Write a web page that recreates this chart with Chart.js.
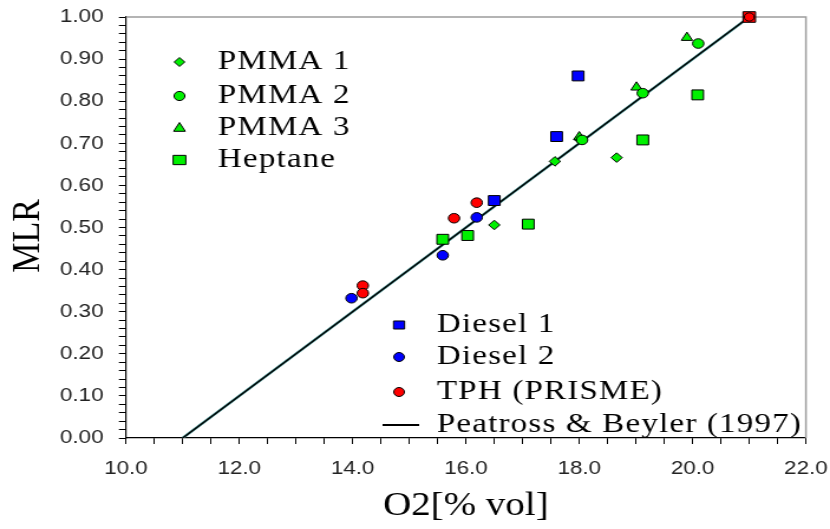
<!DOCTYPE html>
<html>
<head>
<meta charset="utf-8">
<script src="https://cdn.jsdelivr.net/npm/chart.js@4.4.1/dist/chart.umd.min.js"></script>
<style>
  html, body { margin: 0; padding: 0; background: #fff; }
</style>
</head>
<body>
<!-- the original picture is stretched sideways, so the canvas is drawn narrower and widened by css -->
<canvas id="chart" width="703" height="529" style="display:block;width:830px;height:529px"></canvas>
<script>
/* === DATA === */
const pmma1X = [16.5, 17.57, 18.0, 18.66];
const pmma1Y = [0.506, 0.657, 0.71, 0.666];

const pmma2X = [18.05, 19.12, 20.1];
const pmma2Y = [0.708, 0.819, 0.937];

const pmma3X = [18.0, 19.01, 19.9];
const pmma3Y = [0.715, 0.833, 0.951];

const heptaneX = [15.59, 16.03, 17.1, 19.12, 20.09];
const heptaneY = [0.472, 0.481, 0.508, 0.708, 0.815];

const diesel1X = [16.5, 17.6, 17.98];
const diesel1Y = [0.564, 0.716, 0.86];

const diesel2X = [13.98, 15.59, 16.19];
const diesel2Y = [0.332, 0.434, 0.524];

const tphX = [14.18, 14.18, 15.79, 16.19, 21.0, 21.0];
const tphY = [0.362, 0.344, 0.522, 0.559, 1.0, 1.0];
const tphStyles = ['circle', 'circle', 'circle', 'circle', 'rect', 'circle'];
const tphRadius = [4.8, 4.8, 4.8, 4.8, 7.5, 4.2];

// Peatross & Beyler (1997) line end points
const peatrossX = [11.0, 21.0];
const peatrossY = [0.0, 1.0];

const xMin = 10, xMax = 22, xStep = 0.5;
const yMin = 0, yMax = 1, yStep = 0.02;

const GREEN = '#00f000';
const BLUE = '#0000ff';
const RED = '#ff0000';

const pts = (xs, ys) => xs.map((x, i) => ({ x: x, y: ys[i] }));

/* === MARKERS === */
function drawMarker(ctx, style, x, y, r, fill) {
  ctx.beginPath();
  if (style === 'circle') {
    ctx.arc(x, y, r, 0, Math.PI * 2);
  } else if (style === 'rect') {
    ctx.rect(x - r * 0.72, y - r * 0.62, r * 1.44, r * 1.24);
  } else if (style === 'rectRot') {
    ctx.moveTo(x, y - r); ctx.lineTo(x + r, y); ctx.lineTo(x, y + r); ctx.lineTo(x - r, y);
    ctx.closePath();
  } else if (style === 'triangle') {
    ctx.moveTo(x, y - r); ctx.lineTo(x + r * 0.9, y + r * 0.6); ctx.lineTo(x - r * 0.9, y + r * 0.6);
    ctx.closePath();
  }
  ctx.fillStyle = fill;
  ctx.fill();
  ctx.lineWidth = 1;
  ctx.strokeStyle = '#000';
  ctx.stroke();
}

const topLegend = [
  { label: 'PMMA 1', style: 'rectRot', color: GREEN, r: 4.5, y: 62 },
  { label: 'PMMA 2', style: 'circle', color: GREEN, r: 4.6, y: 96 },
  { label: 'PMMA 3', style: 'triangle', color: GREEN, r: 5.5, y: 128 },
  { label: 'Heptane', style: 'rect', color: GREEN, r: 7.5, y: 160 }
];
const bottomLegend = [
  { label: 'Diesel 1', style: 'rect', color: BLUE, r: 6.5, y: 325 },
  { label: 'Diesel 2', style: 'circle', color: BLUE, r: 4.5, y: 357 },
  { label: 'TPH (PRISME)', style: 'circle', color: RED, r: 4.5, y: 392 },
  { label: 'Peatross & Beyler (1997)', style: 'line', color: '#000', r: 0, y: 425 }
];

/* === DECORATION PLUGIN === */
const framePlugin = {
  id: 'frame',
  beforeDatasetsDraw(chart) {
    const ctx = chart.ctx, a = chart.chartArea;
    ctx.save();
    ctx.strokeStyle = '#9c9c9c';
    ctx.lineWidth = 1.5;
    ctx.beginPath();
    ctx.moveTo(a.left, a.top);
    ctx.lineTo(a.right, a.top);
    ctx.lineTo(a.right, a.bottom);
    ctx.stroke();
    ctx.restore();
  },
  afterDraw(chart) {
    const ctx = chart.ctx;
    ctx.save();
    ctx.font = '28px "Liberation Serif", "Times New Roman", serif';
    ctx.letterSpacing = '1px';
    ctx.textBaseline = 'middle';
    ctx.textAlign = 'left';

    topLegend.forEach(e => {
      drawMarker(ctx, e.style, 152, e.y, e.r, e.color);
      ctx.fillStyle = '#000';
      ctx.fillText(e.label, 184.5, e.y);
    });
    bottomLegend.forEach(e => {
      if (e.style === 'line') {
        ctx.strokeStyle = '#000';
        ctx.lineWidth = 2;
        ctx.beginPath();
        ctx.moveTo(324, e.y); ctx.lineTo(355, e.y);
        ctx.stroke();
      } else {
        drawMarker(ctx, e.style, 338, e.y, e.r, e.color);
      }
      ctx.fillStyle = '#000';
      ctx.fillText(e.label, 370, e.y);
    });

    // axis titles
    ctx.letterSpacing = '0px';
    ctx.textAlign = 'center';
    ctx.font = '33px "Liberation Serif", "Times New Roman", serif';
    ctx.fillText('O2[% vol]', (chart.chartArea.left + chart.chartArea.right) / 2, 506);
    ctx.translate(24, 236);
    ctx.rotate(-Math.PI / 2);
    ctx.font = '34px "Liberation Serif", "Times New Roman", serif';
    ctx.fillText('MLR', 0, 0);
    ctx.restore();
  }
};

/* === CHART === */
Chart.defaults.font.family = '"Liberation Sans", Arial, sans-serif';

const pointSet = (label, data, style, color, r, order) => ({
  type: 'scatter',
  label: label,
  data: data,
  pointStyle: style,
  pointRadius: r,
  pointHoverRadius: r,
  backgroundColor: color,
  borderColor: '#000',
  borderWidth: 1,
  clip: false,
  order: order
});

new Chart(document.getElementById('chart'), {
  type: 'scatter',
  data: {
    datasets: [
      {
        type: 'line', label: 'Peatross & Beyler (1997)', data: pts(peatrossX, peatrossY),
        borderColor: '#4a9c9c', borderWidth: 2.4, pointRadius: 0, order: 20
      },
      {
        type: 'line', label: 'Peatross line', data: pts(peatrossX, peatrossY),
        borderColor: '#000', borderWidth: 1.5, pointRadius: 0, order: 19
      },
      pointSet('Heptane', pts(heptaneX, heptaneY), 'rect', GREEN, 7, 8),
      pointSet('PMMA 1', pts(pmma1X, pmma1Y), 'rectRot', GREEN, 4.8, 7),
      pointSet('PMMA 3', pts(pmma3X, pmma3Y), 'triangle', GREEN, 5.5, 6),
      pointSet('PMMA 2', pts(pmma2X, pmma2Y), 'circle', GREEN, 4.8, 5),
      pointSet('Diesel 1', pts(diesel1X, diesel1Y), 'rect', BLUE, 7, 4),
      pointSet('Diesel 2', pts(diesel2X, diesel2Y), 'circle', BLUE, 4.8, 3),
      pointSet('TPH (PRISME)', pts(tphX, tphY), tphStyles, RED, tphRadius, 2)
    ]
  },
  options: {
    responsive: false,
    animation: false,
    devicePixelRatio: 1,
    layout: { padding: { top: 17, right: 20.4, left: 0, bottom: 0 } },
    plugins: { legend: { display: false }, tooltip: { enabled: false } },
    scales: {
      x: {
        type: 'linear', min: xMin, max: xMax,
        afterFit: s => { s.height = 91; s.paddingLeft = 0; s.paddingRight = 0; },
        border: { display: true, color: '#000', width: 1.2 },
        grid: { drawOnChartArea: false, drawTicks: true, tickLength: 6, color: '#000' },
        ticks: {
          stepSize: xStep, autoSkip: false, maxRotation: 0, padding: 13,
          color: '#222', font: { size: 19 },
          callback: v => (Math.abs(v % 2) < 1e-6 ? v.toFixed(1) : '')
        }
      },
      y: {
        type: 'linear', min: yMin, max: yMax,
        afterFit: s => { s.width = 106.7; s.paddingTop = 0; s.paddingBottom = 0; },
        border: { display: true, color: '#000', width: 1.2 },
        grid: { drawOnChartArea: false, drawTicks: true, tickLength: 6, color: '#000' },
        ticks: {
          stepSize: yStep, autoSkip: false, padding: 13,
          color: '#222', font: { size: 19 },
          callback: v => (Math.round(v * 100) % 10 === 0 ? v.toFixed(2) : '')
        }
      }
    }
  },
  plugins: [framePlugin]
});
</script>
</body>
</html>
